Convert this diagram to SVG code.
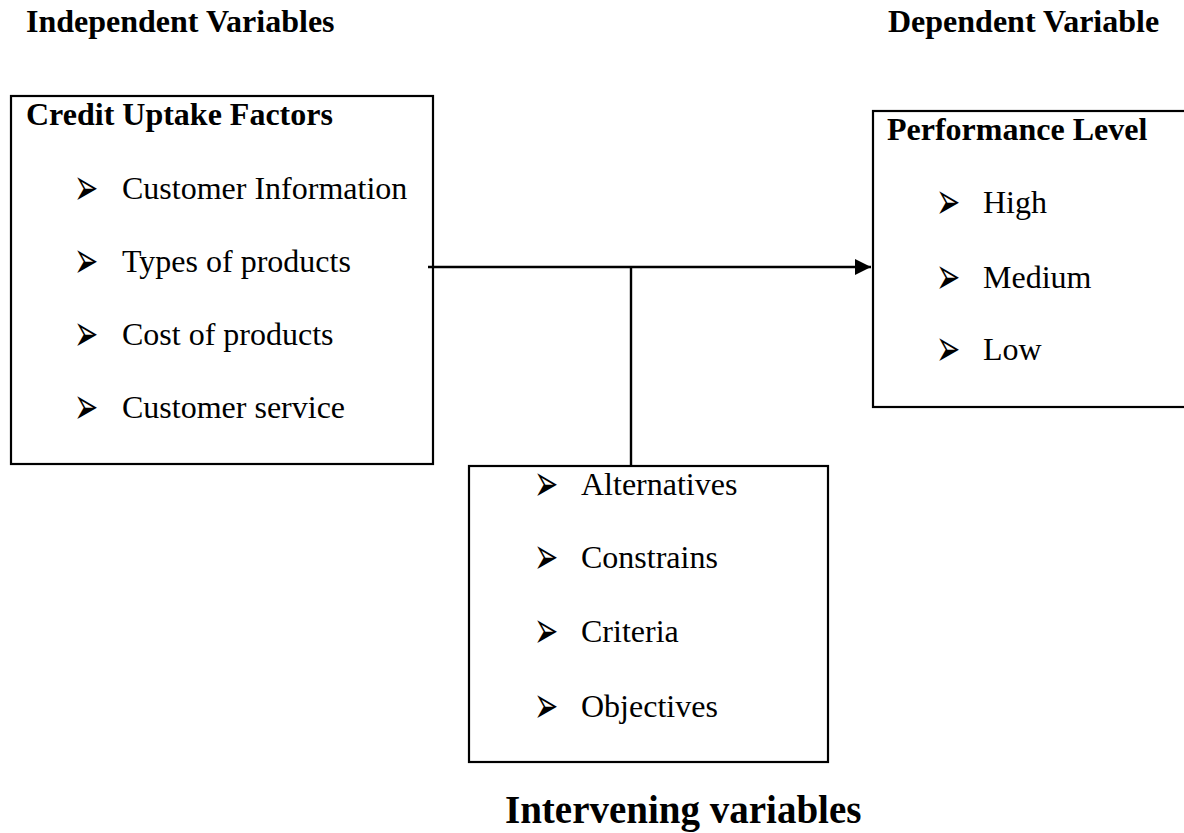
<svg xmlns="http://www.w3.org/2000/svg" width="1184" height="833" viewBox="0 0 1184 833">
<style>
.hd{font-family:"Liberation Serif","Times New Roman",serif;font-weight:bold;font-size:32px;fill:#000}
.it{font-family:"Liberation Serif","Times New Roman",serif;font-size:32px;fill:#000}
.bl{font-family:"DejaVu Sans",sans-serif;font-size:29px;fill:#000}
.box{fill:#fff;stroke:#000;stroke-width:2.2}
.ln{stroke:#000;stroke-width:2.4;fill:none}
</style>
<defs>
<marker id="ah" markerUnits="userSpaceOnUse" markerWidth="16" markerHeight="16" refX="16" refY="8" orient="auto">
<path d="M0,0 L16,8 L0,16 Z" fill="#000"/>
</marker>
</defs>
<rect width="1184" height="833" fill="#fff"/>
<g id="labels">
<text class="hd" x="26" y="32">Independent Variables</text>
<text class="hd" x="888" y="32">Dependent Variable</text>
<text class="hd" x="505" y="823" style="font-size:39px">Intervening variables</text>
</g>
<g id="credit-uptake-factors">
<rect class="box" x="11" y="96" width="422" height="368"/>
<text class="hd" x="26" y="125">Credit Uptake Factors</text>
<text class="bl" transform="translate(74,186.5) scale(1,1.8)" y="10">➢</text><text class="it" x="122" y="199">Customer Information</text>
<text class="bl" transform="translate(74,259.5) scale(1,1.8)" y="10">➢</text><text class="it" x="122" y="272">Types of products</text>
<text class="bl" transform="translate(74,332.5) scale(1,1.8)" y="10">➢</text><text class="it" x="122" y="345">Cost of products</text>
<text class="bl" transform="translate(74,405.5) scale(1,1.8)" y="10">➢</text><text class="it" x="122" y="418">Customer service</text>
</g>
<g id="performance-level">
<rect class="box" x="873" y="111" width="330" height="296"/>
<text class="hd" x="887" y="140">Performance Level</text>
<text class="bl" transform="translate(936,200.5) scale(1,1.8)" y="10">➢</text><text class="it" x="983" y="213">High</text>
<text class="bl" transform="translate(936,275.5) scale(1,1.8)" y="10">➢</text><text class="it" x="983" y="288">Medium</text>
<text class="bl" transform="translate(936,347.5) scale(1,1.8)" y="10">➢</text><text class="it" x="983" y="360">Low</text>
</g>
<g id="intervening">
<rect class="box" x="469" y="466" width="359" height="296"/>
<text class="bl" transform="translate(534,482.5) scale(1,1.8)" y="10">➢</text><text class="it" x="581" y="495">Alternatives</text>
<text class="bl" transform="translate(534,555.5) scale(1,1.8)" y="10">➢</text><text class="it" x="581" y="568">Constrains</text>
<text class="bl" transform="translate(534,629.5) scale(1,1.8)" y="10">➢</text><text class="it" x="581" y="642">Criteria</text>
<text class="bl" transform="translate(534,704.5) scale(1,1.8)" y="10">➢</text><text class="it" x="581" y="717">Objectives</text>
</g>
<g id="connectors">
<line class="ln" x1="428" y1="267" x2="871" y2="267" marker-end="url(#ah)"/>
<line class="ln" x1="631" y1="267" x2="631" y2="465"/>
</g>
</svg>
